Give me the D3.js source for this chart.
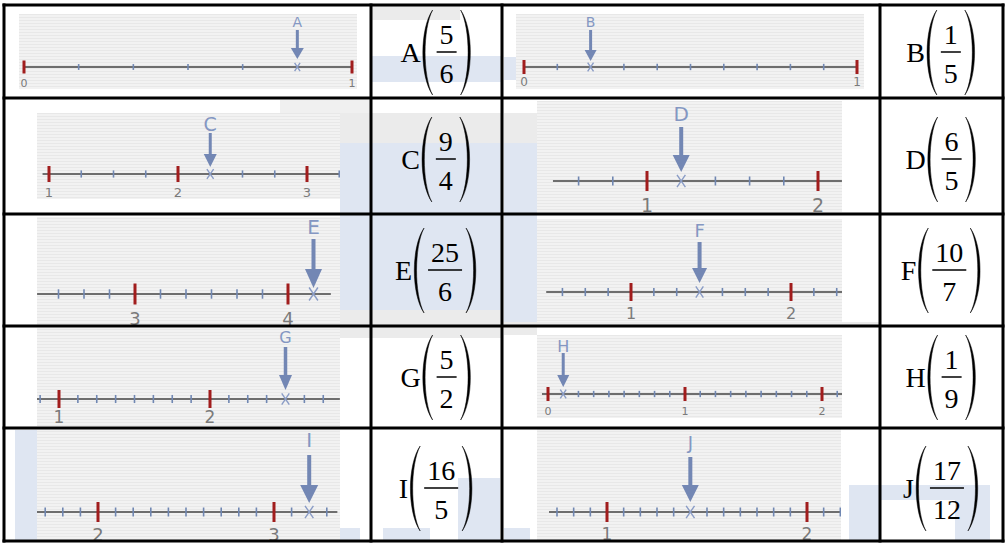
<!DOCTYPE html>
<html><head><meta charset="utf-8">
<script src="https://cdn.jsdelivr.net/npm/d3@7/dist/d3.min.js"></script>
<style>html,body{margin:0;padding:0;background:#fff;}svg{display:block;}</style>
</head><body>
<svg id="c" width="1008" height="544"></svg>
<script>
// ---------- data ----------
const letters = ["A","B","C","D","E","F","G","H","I","J"];
const numerators = [5,1,9,6,25,10,5,1,16,17];
const denominators = [6,5,4,5,6,7,2,9,5,12];
const subdivisions = [6,10,4,5,6,7,8,9,10,12];
const lineStart = [0,0,0.95,0.45,2.36,0.47,0.854,-0.044,1.65,0.71];
const lineEnd = [1,1,3.26,2.14,4.28,2.32,2.86,2.146,3.36,2.17];
const tickLabels = [["0","1"],["0","1"],["1","2","3"],["1","2"],["3","4"],["1","2"],["1","2"],["0","1","2"],["2","3"],["1","2"]];

// ---------- layout (pixels) ----------
const colX = [4,371,502,880,1003];
const rowY = [5,98,214,326,428,541];
const barY = [52,159,270,377,488];
const L = [
 {p:[19,14,357,89],  ay:67,  r:[24,352],  ly:22,  ls:14, ty:83,  ts:11, st:30,  tip:59,  hw:13, hh:11, sw:3,   mj:6.5},
 {p:[516,14,864,89], ay:67,  r:[524,857], ly:22,  ls:14, ty:82,  ts:12, st:30,  tip:61,  hw:12, hh:11, sw:3,   mj:7},
 {p:[37,113,340,199],ay:174, r:[49,307],  ly:124, ls:19, ty:192, ts:13, st:133, tip:167, hw:13, hh:13, sw:3,   mj:8},
 {p:[537,101,842,212],ay:181,r:[647,818], ly:114, ls:20, ty:205, ts:19, st:127, tip:172, hw:17, hh:17, sw:4,   mj:10},
 {p:[37,217,340,325],ay:294, r:[135,288], ly:227, ls:20, ty:319, ts:18, st:239, tip:288, hw:17, hh:19, sw:4,   mj:10.5},
 {p:[537,219,842,322],ay:292,r:[631,791], ly:231, ls:18, ty:313, ts:16, st:242, tip:283, hw:15, hh:15, sw:4,   mj:9},
 {p:[37,328,340,426],ay:399, r:[59,210],  ly:337, ls:16, ty:417, ts:17, st:347, tip:390, hw:13, hh:15, sw:3.5, mj:9},
 {p:[537,335,842,418],ay:394,r:[548,822], ly:346, ls:16, ty:411, ts:11, st:353, tip:387, hw:12, hh:12, sw:3,   mj:7},
 {p:[37,430,340,541],ay:512, r:[98,274],  ly:440, ls:20, ty:535, ts:18, st:455, tip:503, hw:18, hh:18, sw:4,   mj:10},
 {p:[537,428,841,541],ay:512,r:[607,807], ly:443, ls:18, ty:534, ts:17, st:457, tip:502, hw:17, hh:17, sw:4,   mj:10}
];
const blue = "#dfe6f2", grayBg = "#ebebeb";
const smudges = [
 [371,56,502,82,blue],[371,6,460,20,grayBg],[504,57,516,80,blue],
 [280,100,371,113,"#f0f0f0"],[340,113,502,143,grayBg],[340,143,502,214,blue],[504,113,537,143,grayBg],[504,143,537,326,blue],
 [340,214,502,310,blue],[340,310,502,326,grayBg],[504,322,880,326,grayBg],
 [340,326,502,338,grayBg],[504,326,537,335,grayBg],
 [15,430,37,541,blue],[340,528,360,541,blue],[383,528,430,541,blue],[458,478,500,541,blue],
 [504,528,530,541,blue],[849,485,880,541,blue],[880,485,990,500,blue],[955,485,990,541,blue]
];

const svg = d3.select("#c");
const defs = svg.append("defs");
const pat = defs.append("pattern").attr("id","scan").attr("patternUnits","userSpaceOnUse").attr("width",4).attr("height",3);
pat.append("rect").attr("width",4).attr("height",3).attr("fill","#f2f2f2");
pat.append("rect").attr("y",2).attr("width",4).attr("height",1).attr("fill","#e8e8e8");

// watermark smudges
svg.append("g").selectAll("rect").data(smudges).join("rect")
  .attr("x",d=>d[0]).attr("y",d=>d[1]).attr("width",d=>d[2]-d[0]).attr("height",d=>d[3]-d[1]).attr("fill",d=>d[4]);

const cells = letters.map((l,i)=>({i, letter:l, num:numerators[i], den:denominators[i], sub:subdivisions[i],
  lo:lineStart[i], hi:lineEnd[i], labels:tickLabels[i], lay:L[i]}));

cells.forEach(c=>{
  const lay = c.lay;
  const [x0,y0,x1,y1] = lay.p;
  const clipId = "clip"+c.i;
  defs.append("clipPath").attr("id",clipId).append("rect").attr("x",x0).attr("y",y0).attr("width",x1-x0).attr("height",y1-y0);
  const g = svg.append("g").attr("clip-path",`url(#${clipId})`);
  g.append("rect").attr("x",x0).attr("y",y0).attr("width",x1-x0).attr("height",y1-y0).attr("fill","url(#scan)");
  const majors = c.labels.map(Number);
  const x = d3.scaleLinear().domain([majors[0], majors[majors.length-1]]).range(lay.r);
  const ay = lay.ay;
  g.append("line").attr("x1",x(c.lo)).attr("x2",x(c.hi)).attr("y1",ay).attr("y2",ay)
    .attr("stroke","#6e6e6e").attr("stroke-width",2);
  const ks = d3.range(Math.ceil(c.lo*c.sub-1e-9), Math.floor(c.hi*c.sub+1e-9)+1);
  const target = c.num/c.den;
  const minors = ks.filter(k=>k%c.sub!==0).map(k=>k/c.sub).filter(v=>Math.abs(v-target)>1e-9);
  const mn = lay.mj*0.45;
  g.append("g").selectAll("line").data(minors).join("line")
    .attr("x1",d=>x(d)).attr("x2",d=>x(d)).attr("y1",ay-mn).attr("y2",ay+mn)
    .attr("stroke","#7087b2").attr("stroke-width",1.6);
  const majVals = ks.filter(k=>k%c.sub===0).map(k=>k/c.sub);
  g.append("g").selectAll("line").data(majVals).join("line")
    .attr("x1",d=>x(d)).attr("x2",d=>x(d)).attr("y1",ay-lay.mj).attr("y2",ay+lay.mj)
    .attr("stroke","#a11d1d").attr("stroke-width",3);
  g.append("g").selectAll("text").data(majors).join("text")
    .attr("x",d=>x(d)).attr("y",lay.ty).attr("dy","0.36em").attr("text-anchor","middle")
    .attr("font-family","DejaVu Sans, Verdana, sans-serif").attr("font-size",lay.ts).attr("fill","#7a7a7a")
    .text((d,j)=>c.labels[j]);
  const tx = x(target), mh = lay.mj*0.62, mw = lay.mj*0.42;
  g.append("path").attr("d",`M${tx-mw},${ay-mh}L${tx+mw},${ay+mh}M${tx+mw},${ay-mh}L${tx-mw},${ay+mh}`)
    .attr("stroke","#8a9cc6").attr("stroke-width",1.4).attr("fill","none");
  g.append("line").attr("x1",tx).attr("x2",tx).attr("y1",lay.st).attr("y2",lay.tip-lay.hh+1)
    .attr("stroke","#7387b4").attr("stroke-width",lay.sw);
  g.append("path").attr("d",`M${tx-lay.hw/2},${lay.tip-lay.hh}L${tx+lay.hw/2},${lay.tip-lay.hh}L${tx},${lay.tip}Z`)
    .attr("fill","#7387b4");
  g.append("text").attr("x",tx).attr("y",lay.ly).attr("dy","0.36em").attr("text-anchor","middle")
    .attr("font-family","DejaVu Sans, Verdana, sans-serif").attr("font-size",lay.ls).attr("fill","#8497c2")
    .text(c.letter);

  // fraction cell
  const col = (c.i%2===0)?1:3;
  const row = Math.floor(c.i/2);
  const cx = (colX[col]+colX[col+1])/2;
  const by = barY[row];
  const fg = svg.append("g");
  const fs = 28;
  const ff = "Liberation Serif, Times New Roman, serif";
  const tl = fg.append("text").attr("font-family",ff).attr("font-size",fs).attr("fill","#000").text(c.letter);
  const tn = fg.append("text").attr("font-family",ff).attr("font-size",fs).attr("fill","#000").attr("text-anchor","middle").text(c.num);
  const td = fg.append("text").attr("font-family",ff).attr("font-size",fs).attr("fill","#000").attr("text-anchor","middle").text(c.den);
  const lw = tl.node().getComputedTextLength();
  const fw = Math.max(tn.node().getComputedTextLength(), td.node().getComputedTextLength()) + 6;
  const pw = 12, g1 = 0, g2 = 4;
  const total = lw + g1 + pw + g2 + fw + g2 + pw;
  const sx = cx - total/2;
  tl.attr("x",sx).attr("y",by+10);
  const lpX = sx + lw + g1;
  const fx = lpX + pw + g2;
  const fcx = fx + fw/2;
  tn.attr("x",fcx).attr("y",by-8);
  td.attr("x",fcx).attr("y",by+31);
  fg.append("line").attr("x1",fx).attr("x2",fx+fw).attr("y1",by).attr("y2",by).attr("stroke","#000").attr("stroke-width",1.5);
  const rpX = fx + fw + g2;
  const top = by-42, bot = by+43, h = bot-top;
  const lp = `M${lpX+pw},${top} C${lpX-1},${top+h*0.22} ${lpX-1},${bot-h*0.22} ${lpX+pw},${bot} C${lpX+2},${bot-h*0.22} ${lpX+2},${top+h*0.22} ${lpX+pw},${top}Z`;
  const rp = `M${rpX},${top} C${rpX+pw+1},${top+h*0.22} ${rpX+pw+1},${bot-h*0.22} ${rpX},${bot} C${rpX+pw-2},${bot-h*0.22} ${rpX+pw-2},${top+h*0.22} ${rpX},${top}Z`;
  fg.append("path").attr("d",lp).attr("fill","#000").attr("stroke","#000").attr("stroke-width",0.5);
  fg.append("path").attr("d",rp).attr("fill","#000").attr("stroke","#000").attr("stroke-width",0.5);
});

// table grid
const grid = svg.append("g").attr("stroke","#000").attr("stroke-width",3);
grid.selectAll("line.v").data(colX).join("line").attr("class","v")
  .attr("x1",d=>d).attr("x2",d=>d).attr("y1",rowY[0]-1.5).attr("y2",rowY[rowY.length-1]+1.5);
grid.selectAll("line.h").data(rowY).join("line").attr("class","h")
  .attr("y1",d=>d).attr("y2",d=>d).attr("x1",colX[0]-1.5).attr("x2",colX[colX.length-1]+1.5);
</script>
</body></html>
